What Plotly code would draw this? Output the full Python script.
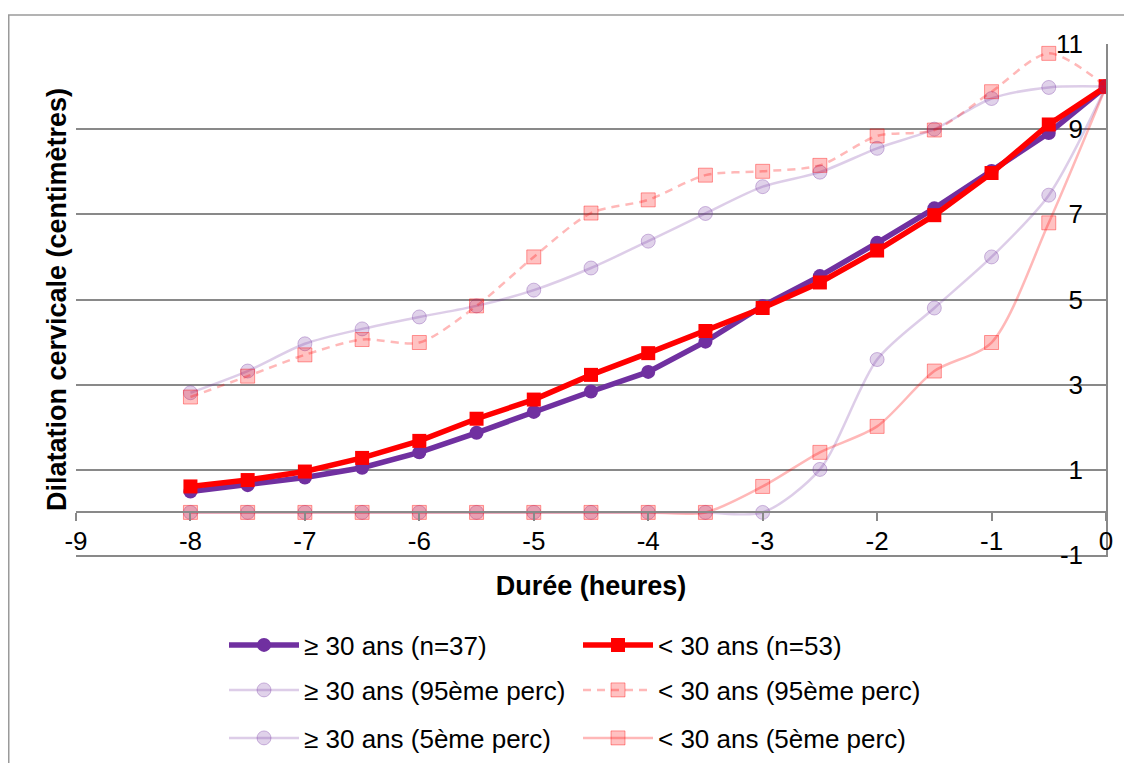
import plotly.graph_objects as go

# ---------------- data ----------------
hours = [-8, -7.5, -7, -6.5, -6, -5.5, -5, -4.5, -4, -3.5, -3, -2.5, -2, -1.5, -1, -0.5, 0]

ge30_mean = [0.49, 0.64, 0.82, 1.05, 1.41, 1.87, 2.36, 2.84, 3.30, 4.01, 4.85, 5.55, 6.33, 7.14, 8.02, 8.91, 10.0]
lt30_mean = [0.61, 0.76, 0.96, 1.28, 1.68, 2.20, 2.65, 3.23, 3.74, 4.26, 4.80, 5.40, 6.15, 6.98, 7.97, 9.11, 10.0]
ge30_p95 = [2.81, 3.32, 3.96, 4.31, 4.59, 4.85, 5.22, 5.74, 6.37, 7.02, 7.65, 7.99, 8.55, 9.00, 9.72, 9.98, 10.0]
lt30_p95 = [2.71, 3.20, 3.70, 4.06, 3.99, 4.85, 6.00, 7.03, 7.34, 7.92, 8.01, 8.15, 8.84, 8.98, 9.88, 10.78, 10.0]
ge30_p5 = [0, 0, 0, 0, 0, 0, 0, 0, 0, 0, 0, 1.01, 3.59, 4.80, 6.00, 7.45, 10.0]
lt30_p5 = [0, 0, 0, 0, 0, 0, 0, 0, 0, 0, 0.61, 1.41, 2.02, 3.32, 3.99, 6.80, 10.0]

names = ["≥ 30 ans (n=37)", "< 30 ans (n=53)",
         "≥ 30 ans (95ème perc)", "< 30 ans (95ème perc)",
         "≥ 30 ans (5ème perc)", "< 30 ans (5ème perc)"]

x_ticks = [-9, -8, -7, -6, -5, -4, -3, -2, -1, 0]
y_ticks = [-1, 1, 3, 5, 7, 9, 11]

x_title = "Durée (heures)"
y_title = "Dilatation cervicale (centimètres)"

# ---------------- style ----------------
PURPLE = "#7030A0"
RED = "#FF0000"
P_LINE = "rgba(112,48,160,0.24)"
P_FILL = "rgba(112,48,160,0.22)"
P_EDGE = "rgba(112,48,160,0.32)"
R_LINE = "rgba(255,0,0,0.28)"
R_FILL = "rgba(255,0,0,0.24)"
R_EDGE = "rgba(255,0,0,0.38)"
GRID = "#898989"
FONT = "Liberation Sans, Arial, sans-serif"
TXT = 26

# figure geometry (the page body adds an 8 px margin around the figure;
# the figure is taller than the window so the bottom legend row never pushes the margins)
W, H = 1116, 780
PL, PR, PT, PB = 68, 1098, 36, 547          # plot-area edges in figure pixels
PW, PH = PR - PL, PB - PT

fig = go.Figure()

# main series
fig.add_trace(go.Scatter(
    x=hours, y=ge30_mean, name=names[0], mode="lines+markers", legend="legend", legendrank=1,
    line=dict(color=PURPLE, width=5.5),
    marker=dict(symbol="circle", size=14, color=PURPLE)))
fig.add_trace(go.Scatter(
    x=hours, y=lt30_mean, name=names[1], mode="lines+markers", legend="legend", legendrank=2,
    line=dict(color=RED, width=5.5),
    marker=dict(symbol="square", size=14, color=RED)))

# percentile series (translucent, smoothed)
fig.add_trace(go.Scatter(
    x=hours, y=ge30_p95, name=names[2], mode="lines+markers", legend="legend2", legendrank=1,
    line=dict(color=P_LINE, width=2.5, shape="spline", smoothing=0.8),
    marker=dict(symbol="circle", size=14, color=P_FILL, line=dict(color=P_EDGE, width=1))))
fig.add_trace(go.Scatter(
    x=hours, y=lt30_p95, name=names[3], mode="lines+markers", legend="legend2", legendrank=2,
    line=dict(color=R_LINE, width=2.5, shape="spline", smoothing=0.8, dash="8px,6px"),
    marker=dict(symbol="square", size=14, color=R_FILL, line=dict(color=R_EDGE, width=1))))
fig.add_trace(go.Scatter(
    x=hours, y=ge30_p5, name=names[4], mode="lines+markers", legend="legend3", legendrank=1,
    line=dict(color=P_LINE, width=2.5, shape="spline", smoothing=0.8),
    marker=dict(symbol="circle", size=14, color=P_FILL, line=dict(color=P_EDGE, width=1))))
fig.add_trace(go.Scatter(
    x=hours, y=lt30_p5, name=names[5], mode="lines+markers", legend="legend3", legendrank=2,
    line=dict(color=R_LINE, width=2.5, shape="spline", smoothing=0.8),
    marker=dict(symbol="square", size=14, color=R_FILL, line=dict(color=R_EDGE, width=1))))

# dummy traces that carry the helper axes (tick labels at x=0, frame lines)
fig.add_trace(go.Scatter(x=[None], y=[None], yaxis="y2", showlegend=False, hoverinfo="skip"))
fig.add_trace(go.Scatter(x=[None], y=[None], xaxis="x2", yaxis="y3", showlegend=False, hoverinfo="skip"))

leg_common = dict(orientation="h", xanchor="left", yanchor="middle",
                  entrywidth=269, entrywidthmode="pixels", itemwidth=70,
                  font=dict(size=TXT, family=FONT), bgcolor="rgba(0,0,0,0)")
leg_x = 148 / PW

fig.update_layout(
    width=W, height=H,
    margin=dict(l=PL, r=W - PR, t=PT, b=H - PB),
    paper_bgcolor="white", plot_bgcolor="white",
    font=dict(family=FONT, size=TXT, color="black"),
    showlegend=True,
    legend=dict(x=leg_x, y=(PB - 637) / PH, **leg_common),
    legend2=dict(x=leg_x, y=(PB - 682) / PH, **leg_common),
    legend3=dict(x=leg_x, y=(PB - 730) / PH, **leg_common),
    xaxis=dict(range=[-9, 0], tickvals=x_ticks, ticktext=[str(v) for v in x_ticks],
               showgrid=False, zeroline=False, showline=True, linecolor=GRID, linewidth=1.5,
               ticks="outside", ticklen=8, tickcolor=GRID, tickwidth=1.5,
               anchor="free", position=1 / 12, ticklabelstandoff=-2,
               tickfont=dict(size=TXT),
               title=dict(text=x_title, font=dict(size=27, family=FONT, weight="bold"), standoff=20)),
    xaxis2=dict(range=[-9, 0], overlaying="x", anchor="y", side="bottom",
                showgrid=False, zeroline=False, showline=True, linecolor=GRID, linewidth=1.5,
                showticklabels=False, ticks=""),
    yaxis=dict(range=[-1, 11], tickvals=y_ticks, showticklabels=False,
               showgrid=True, gridcolor=GRID, gridwidth=1.5, zeroline=False, showline=False,
               ticks="",
               title=dict(text=y_title, font=dict(size=27, family=FONT, weight="bold"), standoff=0)),
    yaxis2=dict(range=[-1, 11], tickvals=y_ticks, ticktext=[str(v) for v in y_ticks],
                overlaying="y", side="left", anchor="free", position=(PR - 23 - PL) / PW,
                showgrid=False, zeroline=False, showline=False, ticks="",
                tickfont=dict(size=TXT)),
    yaxis3=dict(range=[-1, 11], overlaying="y", side="right", anchor="x2",
                showgrid=False, zeroline=False, showline=True, linecolor=GRID, linewidth=1.5,
                showticklabels=False, ticks=""),
    shapes=[dict(type="rect", xref="paper", yref="paper",
                 x0=(0.75 - PL) / PW, x1=(W + 20 - PL) / PW,
                 y0=(PB - (H + 20)) / PH, y1=(PB - 7) / PH,
                 line=dict(color="#9a9a9a", width=1.5), fillcolor="rgba(0,0,0,0)", layer="below")],
)

fig.write_html("out.html")
